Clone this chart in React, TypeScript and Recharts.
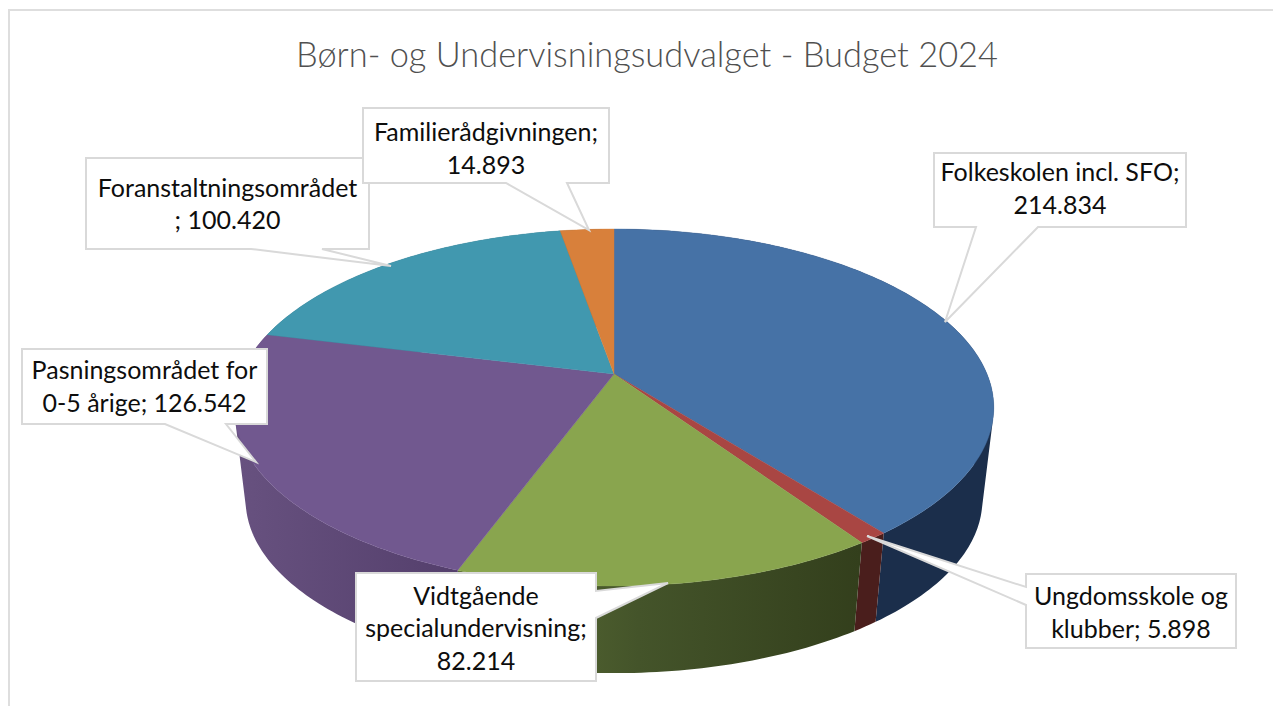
import React from 'react';
import { PieChart, Pie, Cell } from 'recharts';

const categories = ['Folkeskolen incl. SFO', 'Ungdomsskole og klubber', 'Vidtgående specialundervisning', 'Pasningsområdet for 0-5 årige', 'Foranstaltningsområdet', 'Familierådgivningen'];
const values = [214834, 5898, 82214, 126542, 100420, 14893];
const labelLines = [
  ['Folkeskolen incl. SFO;', '214.834'],
  ['Ungdomsskole og', 'klubber; 5.898'],
  ['Vidtgående', 'specialundervisning;', '82.214'],
  ['Pasningsområdet for', '0-5 årige; 126.542'],
  ['Foranstaltningsområdet', '; 100.420'],
  ['Familierådgivningen;', '14.893'],
];
const topColors = ['#4672a6', '#a94643', '#89a54e', '#71588f', '#4198af', '#d8803b'];
const sideColors = ['#1b2e4b', '#4a1e1c', 'url(#sideGreen)', 'url(#sidePurple)', '#2b6474', '#8f5526'];

const data = categories.map((name, i) => ({ name, value: values[i] }));

const KP = 0.1877;
const YR = 172.2 / 373;
const DEPTH = 93.5;
const BOTTOM = 0.97;

function project(cx: number, cy: number, r: number, deg: number, scale = 1, dy = 0) {
  const a = (deg * Math.PI) / 180;
  const u = Math.cos(a);
  const v = Math.sin(a);
  const d = 1 + KP * v;
  return [cx + (scale * r * u) / d, cy + dy - (scale * r * YR * v) / d];
}

function arcPoints(p: any, scale = 1, dy = 0) {
  const pts: number[][] = [];
  const n = Math.max(2, Math.ceil(Math.abs(p.endAngle - p.startAngle)));
  for (let i = 0; i <= n; i++) {
    const deg = p.startAngle + ((p.endAngle - p.startAngle) * i) / n;
    pts.push(project(p.cx, p.cy, p.outerRadius, deg, scale, dy));
  }
  return pts;
}

const toPath = (pts: number[][]) => 'M' + pts.map((q) => `${q[0].toFixed(2)},${q[1].toFixed(2)}`).join('L') + 'Z';

function signedArea(pts: number[][]) {
  let s = 0;
  pts.forEach((q, i) => {
    const r = pts[(i + 1) % pts.length];
    s += q[0] * r[1] - r[0] * q[1];
  });
  return s;
}

function TopFace(p: any) {
  const pts = [[p.cx, p.cy], ...arcPoints(p)];
  return <path d={toPath(pts)} fill={p.fill} stroke={p.fill} strokeWidth={0.4} />;
}

function SideFace(p: any) {
  const upper = arcPoints(p);
  const lower = arcPoints(p, BOTTOM, DEPTH);
  // one path of equally wound strips, so the strips merge without seams
  const d = upper
    .slice(1)
    .map((q, i) => {
      const quad = [upper[i], q, lower[i + 1], lower[i]];
      return toPath(signedArea(quad) < 0 ? quad.reverse() : quad);
    })
    .join('');
  return <path d={d} fill={p.fill} fillRule="nonzero" stroke="none" />;
}

const boxes = [
  { x: 934, y: 153, w: 252, h: 74, dy: -1, tail: [[1038, 227], [945, 322], [976, 227]] },
  { x: 1026, y: 574, w: 210, h: 74, dy: 2, tail: [[1026, 605], [867, 536], [1026, 587]] },
  { x: 356, y: 573, w: 240, h: 108, dy: 1.5, tail: [[596, 591], [668, 583], [596, 618]] },
  { x: 22, y: 349, w: 245, h: 75, dy: 0.5, tail: [[226, 424], [256, 462], [165, 424]] },
  { x: 86, y: 158, w: 283, h: 91, dy: 1, tail: [[322, 249], [391, 266], [251, 249]] },
  { x: 363, y: 108, w: 246, h: 75, dy: 3.5, tail: [[567, 183], [589, 230], [506, 183]] },
];

function Callout(p: any) {
  const b = boxes[p.index];
  const corners = [[b.x, b.y], [b.x + b.w, b.y], [b.x + b.w, b.y + b.h], [b.x, b.y + b.h]];
  const t = b.tail;
  let pts: number[][];
  if (t[0][1] === b.y + b.h) {
    pts = [corners[0], corners[1], corners[2], ...t, corners[3]];
  } else if (t[0][0] === b.x + b.w) {
    pts = [corners[0], corners[1], ...t, corners[2], corners[3]];
  } else {
    pts = [corners[0], corners[1], corners[2], corners[3], ...t];
  }
  const lines = labelLines[p.index];
  const lh = 32.5;
  const midY = b.y + b.h / 2 + b.dy;
  return (
    <g>
      <path d={toPath(pts)} fill="#ffffff" stroke="#d9d9d9" strokeWidth={2} strokeLinejoin="miter" />
      {lines.map((line, i) => (
        <text
          key={i}
          x={b.x + b.w / 2}
          y={midY + (i - (lines.length - 1) / 2) * lh + 8.5}
          textAnchor="middle"
          fontFamily="Lato, Carlito, sans-serif"
          fontSize={25}
          fill="#0d0d0d"
        >
          {line}
        </text>
      ))}
    </g>
  );
}

export default function App() {
  return (
    <div style={{ position: 'absolute', left: 0, top: 0, width: 1273, height: 706, background: '#fff', overflow: 'hidden' }}>
      <div style={{ position: 'absolute', left: 8, top: 9, width: 1300, height: 720, border: '2px solid #dedede', boxSizing: 'border-box' }} />
      <PieChart width={1273} height={706} style={{ position: 'absolute', left: 0, top: 0 }} margin={{ top: 0, right: 0, bottom: 0, left: 0 }}>
        <defs>
          <linearGradient id="sideGreen" gradientUnits="userSpaceOnUse" x1="458" y1="0" x2="860" y2="0">
            <stop offset="0%" stopColor="#5f7236" />
            <stop offset="45%" stopColor="#44542a" />
            <stop offset="100%" stopColor="#333f1c" />
          </linearGradient>
          <linearGradient id="sidePurple" gradientUnits="userSpaceOnUse" x1="241" y1="0" x2="458" y2="0">
            <stop offset="0%" stopColor="#67517f" />
            <stop offset="100%" stopColor="#543f6c" />
          </linearGradient>
        </defs>
        <text x={647} y={67} textAnchor="middle" fontFamily="Lato, Carlito, sans-serif" fontWeight={300} fontSize={35} textLength={702} lengthAdjust="spacingAndGlyphs" fill="#505050">
          Børn- og Undervisningsudvalget - Budget 2024
        </text>
        <Pie data={data} dataKey="value" cx={614} cy={374} outerRadius={373} startAngle={90} endAngle={-270} isAnimationActive={false} shape={SideFace} label={false} labelLine={false} stroke="none">
          {data.map((d, i) => <Cell key={d.name} fill={sideColors[i]} />)}
        </Pie>
        <Pie data={data} dataKey="value" cx={614} cy={374} outerRadius={373} startAngle={90} endAngle={-270} isAnimationActive={false} shape={TopFace} label={Callout} labelLine={false} stroke="none">
          {data.map((d, i) => <Cell key={d.name} fill={topColors[i]} />)}
        </Pie>
      </PieChart>
    </div>
  );
}
